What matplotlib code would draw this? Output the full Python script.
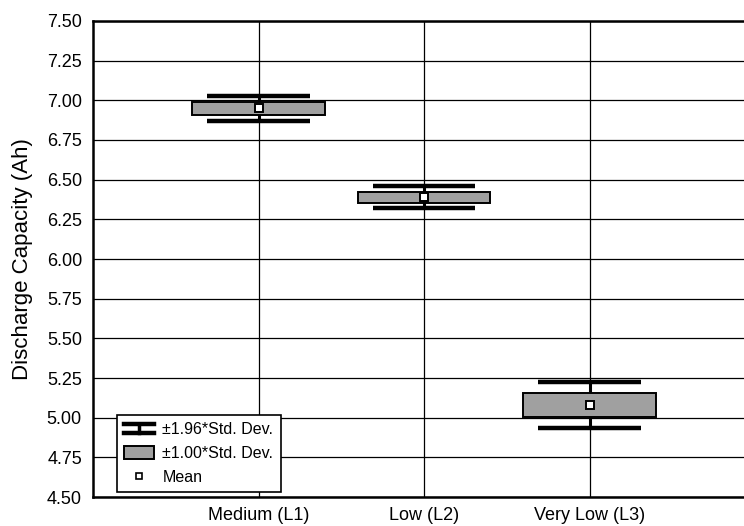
import matplotlib
matplotlib.use("Agg")
import matplotlib.pyplot as plt
import numpy as np
from matplotlib.legend_handler import HandlerBase
from matplotlib.lines import Line2D
from matplotlib.patches import Rectangle

plt.rcParams['font.family'] = ['Liberation Sans', 'DejaVu Sans']

categories = ['Medium (L1)', 'Low (L2)', 'Very Low (L3)']
means = [6.95, 6.39, 5.08]
sds = [0.041, 0.035, 0.073]
yticks = [4.50, 4.75, 5.00, 5.25, 5.50, 5.75, 6.00, 6.25, 6.50, 6.75, 7.00, 7.25, 7.50]
legend_labels = ['±1.96*Std. Dev.', '±1.00*Std. Dev.', 'Mean']

fig = plt.figure(figsize=(7.44, 5.26), dpi=100)
ax = fig.add_axes([0.125, 0.0551, 0.89, 0.905])

x = np.arange(1, len(categories) + 1)
means_a = np.array(means)
sds_a = np.array(sds)

# grid
for yt in yticks:
    ax.axhline(yt, color='black', lw=0.9, zorder=0)
for xi in x:
    ax.axvline(xi, color='black', lw=0.9, zorder=0)

# whisker stems
ax.vlines(x, means_a - 1.96 * sds_a, means_a + 1.96 * sds_a, color='black', lw=2.2, zorder=2)
# caps
ax.hlines(means_a + 1.96 * sds_a, x - 0.31, x + 0.31, color='black', lw=3.2, zorder=2)
ax.hlines(means_a - 1.96 * sds_a, x - 0.31, x + 0.31, color='black', lw=3.2, zorder=2)
# boxes
ax.bar(x, 2 * sds_a, bottom=means_a - sds_a, width=0.8, color='#a0a0a0',
       edgecolor='black', linewidth=1.4, zorder=3)
# means
ax.plot(x, means_a, linestyle='none', marker='s', markersize=6,
        markerfacecolor='white', markeredgecolor='black', markeredgewidth=1.4, zorder=4)

ax.set_xlim(0, 4)
ax.set_ylim(4.5, 7.5)
ax.set_yticks(yticks)
ax.set_yticklabels([f"{v:.2f}" for v in yticks], fontsize=13)
ax.set_xticks(x)
ax.set_xticklabels(categories, fontsize=13)
ax.tick_params(axis='y', length=0, pad=8)
ax.tick_params(axis='x', length=0, pad=7)
ax.set_ylabel('Discharge Capacity (Ah)', fontsize=16, labelpad=10)
for s in ax.spines.values():
    s.set_linewidth(1.8)


class IBeamHandler(HandlerBase):
    def create_artists(self, legend, orig_handle, xdescent, ydescent, width, height, fontsize, trans):
        x0, x1 = -xdescent, -xdescent + width
        y0, y1 = -ydescent + height * 0.15, -ydescent + height * 0.85
        xm = (x0 + x1) / 2
        return [
            Line2D([x0, x1], [y1, y1], color='black', lw=3.2, transform=trans),
            Line2D([x0, x1], [y0, y0], color='black', lw=3.2, transform=trans),
            Line2D([xm, xm], [y0, y1], color='black', lw=2.5, transform=trans),
        ]


class BoxHandler(HandlerBase):
    def create_artists(self, legend, orig_handle, xdescent, ydescent, width, height, fontsize, trans):
        return [Rectangle((-xdescent, -ydescent), width, height,
                          facecolor='#a0a0a0', edgecolor='black', lw=1.4, transform=trans)]


class MeanHandler(HandlerBase):
    def create_artists(self, legend, orig_handle, xdescent, ydescent, width, height, fontsize, trans):
        return [Line2D([-xdescent + width / 2], [-ydescent + height / 2], marker='s', markersize=5,
                       markerfacecolor='white', markeredgecolor='black', markeredgewidth=1.2,
                       linestyle='none', transform=trans)]


class H1: pass
class H2: pass
class H3: pass


leg = ax.legend([H1(), H2(), H3()], legend_labels,
                handler_map={H1: IBeamHandler(), H2: BoxHandler(), H3: MeanHandler()},
                loc='lower left', bbox_to_anchor=(0.036, 0.0105), fontsize=11.5,
                frameon=True, fancybox=False, edgecolor='black', framealpha=1,
                handlelength=1.9, handleheight=0.8, handletextpad=0.5, borderpad=0.45,
                labelspacing=0.55, borderaxespad=0.0)
leg.get_frame().set_linewidth(1.2)
leg.set_zorder(5)

fig.savefig('out.png', dpi=100)
